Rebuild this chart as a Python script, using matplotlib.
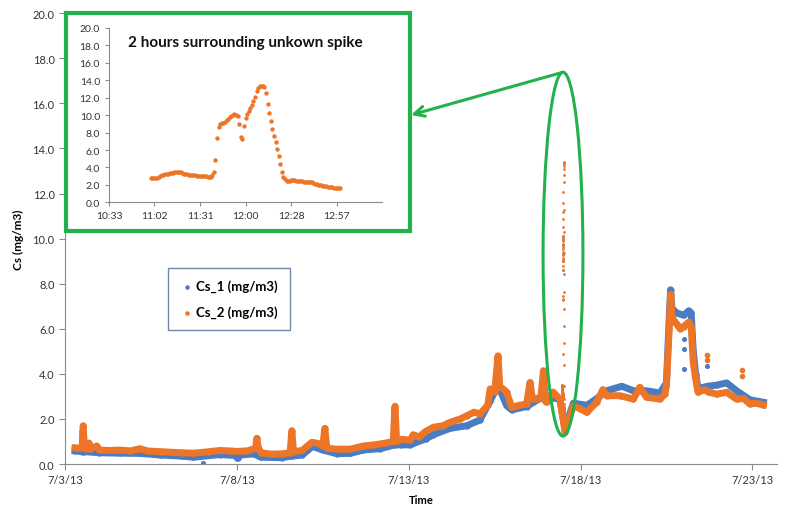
import matplotlib
matplotlib.use("Agg")
import matplotlib.pyplot as plt
from matplotlib.patches import Rectangle, Ellipse
import numpy as np

plt.rcParams['font.family'] = ['Lato', 'DejaVu Sans']

BLUE = '#4a7cc4'
ORANGE = '#ec7528'
GREEN = '#22b14c'
AXIS = '#8c8c8c'

# main series: day of July 2013, value (mg/m3)
cs2_day = [3.29, 3.45, 3.50, 3.53, 3.56, 3.65, 3.70, 3.74, 3.92, 4.0, 4.3, 4.6, 4.9,
           5.18, 5.4, 5.76, 6.1, 6.4, 6.73, 7.02, 7.2, 7.5, 7.8, 8.0, 8.3, 8.55, 8.58,
           8.62, 8.7, 9.0, 9.3, 9.55, 9.6, 9.65, 9.9, 10.18, 10.35, 10.5, 10.56, 10.62,
           10.9, 11.3, 11.68, 12.0, 12.3, 12.55, 12.6, 12.65, 12.8, 13.04, 13.13, 13.3,
           13.5, 13.72, 14.0, 14.2, 14.5, 14.69, 14.9, 15.07, 15.3, 15.37, 15.5, 15.6,
           15.65, 15.75, 15.85, 16.0, 16.2, 16.43, 16.53, 16.6, 16.72, 16.85, 16.92,
           16.97, 17.01, 17.2, 17.4, 17.55, 17.62, 17.79, 18.0, 18.18, 18.47, 18.65,
           18.76, 19.15, 19.54, 19.72, 19.92, 20.31, 20.45, 20.5, 20.58, 20.62, 20.66,
           20.8, 20.9, 21.0, 21.15, 21.22, 21.28, 21.35, 21.42, 21.6, 21.72, 21.96,
           22.25, 22.54, 22.75, 22.93, 23.1, 23.32]
cs2_val = [0.72, 0.70, 0.75, 1.70, 0.70, 0.66, 0.93, 0.66, 0.80, 0.62, 0.60, 0.62, 0.58,
           0.68, 0.58, 0.55, 0.52, 0.50, 0.48, 0.52, 0.55, 0.60, 0.58, 0.56, 0.58, 0.70, 1.14,
           0.75, 0.50, 0.44, 0.45, 0.50, 1.48, 0.55, 0.60, 0.96, 0.92, 0.80, 1.58, 0.70,
           0.66, 0.66, 0.80, 0.85, 0.92, 1.00, 2.56, 1.00, 1.10, 1.05, 1.30, 1.20,
           1.45, 1.63, 1.70, 1.85, 2.00, 2.14, 2.30, 2.22, 2.60, 3.33, 3.20, 4.80,
           3.40, 3.33, 3.19, 2.51, 2.60, 2.66, 3.62, 2.90, 2.88, 3.00, 4.14,
           2.80, 2.74, 3.19, 2.88, 1.40, 1.80, 2.59, 2.44, 2.29, 2.74, 3.30,
           3.03, 3.03, 2.88, 3.40, 2.96, 2.88, 3.10, 3.47, 6.00, 7.54, 6.50,
           6.20, 6.00, 6.10, 6.30, 6.10, 4.50, 3.77, 3.18, 3.30, 3.20, 3.10,
           3.18, 2.88, 2.90, 2.66, 2.70, 2.62]

cs1_day = [3.29, 3.50, 3.53, 3.56, 4.0, 4.6, 5.18, 5.76, 6.4, 6.73, 7.5, 7.95, 8.02,
           8.1, 8.5, 8.7, 9.3, 9.6, 9.9, 10.2, 10.5, 10.9, 11.3, 11.68, 12.17, 12.6,
           12.77, 13.04, 13.5, 13.72, 14.2, 14.69, 15.07, 15.37, 15.6, 15.85, 16.0,
           16.43, 16.92, 17.2, 17.4, 17.55, 17.79, 18.0, 18.18, 18.47, 18.76, 19.2,
           19.54, 19.92, 20.31, 20.5, 20.58, 20.62, 20.66, 20.8, 21.0, 21.15, 21.22,
           21.28, 21.35, 21.42, 21.7, 21.96, 22.25, 22.54, 22.93, 23.32]
cs1_val = [0.58, 0.55, 1.50, 0.55, 0.50, 0.48, 0.47, 0.40, 0.35, 0.30, 0.42, 0.38, 0.25,
           0.40, 0.45, 0.30, 0.28, 0.35, 0.40, 0.78, 0.62, 0.46, 0.47, 0.62, 0.68, 0.85,
           0.85, 0.85, 1.12, 1.30, 1.58, 1.70, 1.95, 2.80, 3.50, 2.59, 2.40,
           2.55, 3.00, 2.95, 2.85, 1.60, 2.70, 2.65, 2.60, 2.90, 3.25, 3.45,
           3.25, 3.25, 3.15, 3.60, 6.50, 7.73, 6.90, 6.70, 6.60, 6.80, 6.70,
           5.00, 4.00, 3.35, 3.45, 3.50, 3.60, 3.25, 2.85, 2.74]

# isolated points away from the band
cs1_out_day = [7.02, 21.02, 21.02, 21.02, 21.68]
cs1_out_val = [0.04, 5.54, 5.10, 4.20, 4.33]
cs2_out_day = [21.69, 21.69, 22.70, 22.70]
cs2_out_val = [4.83, 4.60, 4.18, 3.90]

# spike on 7/17, one reading per minute from 11:00
spike_start_min = 660
spike_val = [2.79, 2.76, 2.74, 2.75, 2.80, 2.90, 3.00, 3.10, 3.17, 3.20,
             3.25, 3.30, 3.37, 3.38, 3.40, 3.44, 3.48, 3.50, 3.52, 3.46,
             3.38, 3.30, 3.25, 3.22, 3.18, 3.15, 3.12, 3.10, 3.08, 3.06,
             3.04, 3.02, 3.00, 2.99, 2.98, 2.98, 2.96, 2.95, 2.94, 3.10,
             3.44, 4.86, 7.34, 8.60, 9.00, 9.05, 9.15, 9.25, 9.40, 9.55,
             9.75, 9.90, 10.05, 10.13, 10.00, 9.94, 9.00, 7.46, 7.27, 8.80,
             9.64, 10.10, 10.50, 10.85, 11.17, 11.60, 12.05, 12.80, 13.10, 13.30,
             13.38, 13.35, 13.20, 12.50, 11.28, 10.30, 9.37, 8.41, 7.65, 6.88,
             6.12, 5.35, 4.40, 3.44, 2.87, 2.65, 2.49, 2.45, 2.49, 2.52,
             2.52, 2.52, 2.50, 2.48, 2.46, 2.44, 2.40, 2.37, 2.36, 2.35,
             2.33, 2.31, 2.29, 2.22, 2.12, 2.07, 2.04, 2.00, 1.96, 1.91,
             1.88, 1.84, 1.80, 1.76, 1.72, 1.70, 1.68, 1.66, 1.64, 1.62, 1.60]
spike_blue_val = [8.6, 9.0, 9.3, 9.7, 10.0]

x_tickdays = [3, 8, 13, 18, 23]
x_ticklabels = ['7/3/13', '7/8/13', '7/13/13', '7/18/13', '7/23/13']

spike_min = spike_start_min + np.arange(len(spike_val))
spike_day = 17 + spike_min / 1440.0

fig = plt.figure(figsize=(7.86, 5.06), dpi=100)
ax = fig.add_axes([0.0827, 0.081, 0.906, 0.891])

ax.plot(cs1_day, cs1_val, color=BLUE, lw=5, marker='o', ms=3.5, zorder=2,
        solid_joinstyle='round')
ax.plot(cs2_day, cs2_val, color=ORANGE, lw=5, marker='o', ms=3.5, zorder=3,
        solid_joinstyle='round')
ax.scatter(cs1_out_day, cs1_out_val, s=7, color=BLUE, zorder=2)
ax.scatter(cs2_out_day, cs2_out_val, s=9, color=ORANGE, zorder=3)
ax.scatter(spike_day, spike_val, s=4, color=ORANGE, linewidths=0, zorder=3)
ax.scatter(np.full(len(spike_blue_val), 17 + 710 / 1440.0), spike_blue_val,
           s=4, color=BLUE, linewidths=0, zorder=2)

ax.set_xlim(3, 23.72)
ax.set_ylim(0, 20)
ax.set_yticks(np.arange(0, 21, 2))
ax.set_yticklabels(['%.1f' % v for v in np.arange(0, 21, 2)])
ax.set_xticks(x_tickdays)
ax.set_xticklabels(x_ticklabels)
for s in ['top', 'right']:
    ax.spines[s].set_visible(False)
for s in ['left', 'bottom']:
    ax.spines[s].set_color(AXIS)
ax.tick_params(colors=AXIS, labelcolor='#333333', labelsize=8, length=4)
ax.set_xlabel('Time', fontsize=8, fontweight='bold', labelpad=6)
ax.set_ylabel('Cs (mg/m3)', fontsize=8.5, fontweight='bold', labelpad=6)

h1 = ax.scatter([], [], s=5, color=BLUE, label='Cs_1 (mg/m3)')
h2 = ax.scatter([], [], s=5, color=ORANGE, label='Cs_2 (mg/m3)')
leg = ax.legend(handles=[h1, h2], loc='upper left', bbox_to_anchor=(0.136, 0.45),
                fancybox=False, handletextpad=0.2, labelspacing=1.0,
                borderpad=0.9, handlelength=1.0, prop={'weight': 'bold', 'size': 9.5})
leg.get_frame().set_edgecolor('#4f6b96')
leg.get_frame().set_linewidth(1)

# ellipse around the spike and arrow to the zoom box
ax.add_patch(Ellipse((17.49, 9.31), 1.16, 16.14, fill=False, edgecolor=GREEN,
                     lw=2.2, zorder=5))
ax.annotate('', xy=(411 / 786, 1 - 116 / 506), xycoords='figure fraction',
            xytext=(17.49, 17.38), textcoords='data',
            arrowprops=dict(arrowstyle='->', color=GREEN, lw=2.2,
                            mutation_scale=18, shrinkA=0, shrinkB=0))

fig.patches.append(Rectangle((66 / 786, 1 - 232 / 506), 344 / 786, 218 / 506,
                             transform=fig.transFigure, facecolor='white',
                             edgecolor=GREEN, lw=3, zorder=4))

# inset
ins = fig.add_axes([109 / 786, 1 - 203.3 / 506, 273 / 786, 174.3 / 506])
ins.set_zorder(6)
ins.patch.set_alpha(0)
ins.scatter(spike_min, spike_val, s=10, color=ORANGE, linewidths=0)
ins.set_xlim(633.6, 806.4)
ins.set_ylim(0, 20)
ins_ticks = 633.6 + 28.8 * np.arange(6)
ins.set_xticks(ins_ticks)
ins.set_xticklabels(['%d:%02d' % (m // 60, int(m % 60)) for m in ins_ticks])
ins.set_yticks(np.arange(0, 21, 2))
ins.set_yticklabels(['%.1f' % v for v in np.arange(0, 21, 2)])
for s in ['top', 'right']:
    ins.spines[s].set_visible(False)
for s in ['left', 'bottom']:
    ins.spines[s].set_color(AXIS)
ins.tick_params(colors=AXIS, labelcolor='#333333', labelsize=7.5, length=3)
ins.text(0.5, 0.96, '2 hours surrounding unkown spike', transform=ins.transAxes,
         ha='center', va='top', fontsize=11, fontweight='bold', color='#111111')

fig.savefig('out.png', dpi=100)
